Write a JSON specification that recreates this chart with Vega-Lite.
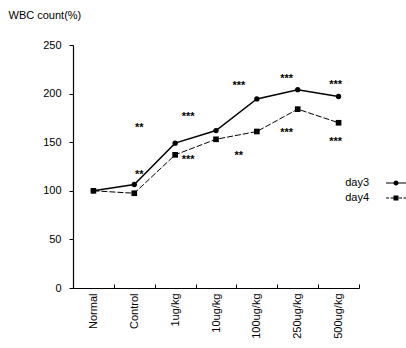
{
  "$schema": "https://vega.github.io/schema/vega-lite/v6.json",
  "width": 286,
  "height": 243,
  "autosize": {"type": "none"},
  "padding": {"left": 73, "top": 45, "right": 47, "bottom": 60},
  "config": {
    "view": {"stroke": null},
    "font": "Liberation Sans",
    "axis": {"domainColor": "black", "tickColor": "black", "labelColor": "black", "grid": false, "labelFont": "Liberation Sans", "labelFontSize": 11, "domainWidth": 1.2, "tickWidth": 1}
  },
  "datasets": {
    "wbc": [
      {"cat": "Normal", "series": "day3", "v": 100},
      {"cat": "Control", "series": "day3", "v": 106.5},
      {"cat": "1ug/kg", "series": "day3", "v": 149},
      {"cat": "10ug/kg", "series": "day3", "v": 162},
      {"cat": "100ug/kg", "series": "day3", "v": 194.5},
      {"cat": "250ug/kg", "series": "day3", "v": 204},
      {"cat": "500ug/kg", "series": "day3", "v": 197},
      {"cat": "Normal", "series": "day4", "v": 100},
      {"cat": "Control", "series": "day4", "v": 97.5},
      {"cat": "1ug/kg", "series": "day4", "v": 137},
      {"cat": "10ug/kg", "series": "day4", "v": 153},
      {"cat": "100ug/kg", "series": "day4", "v": 161},
      {"cat": "250ug/kg", "series": "day4", "v": 184},
      {"cat": "500ug/kg", "series": "day4", "v": 170}
    ],
    "stars": [
      {"cat": "Control", "v": 168, "t": "**"},
      {"cat": "Control", "v": 119, "t": "**"},
      {"cat": "1ug/kg", "v": 178.5, "t": "***"},
      {"cat": "1ug/kg", "v": 135, "t": "***"},
      {"cat": "100ug/kg", "v": 211, "t": "***"},
      {"cat": "100ug/kg", "v": 139, "t": "**"},
      {"cat": "250ug/kg", "v": 218, "t": "***"},
      {"cat": "250ug/kg", "v": 163, "t": "***"},
      {"cat": "500ug/kg", "v": 211.5, "t": "***"},
      {"cat": "500ug/kg", "v": 153.5, "t": "***"}
    ]
  },
  "encoding": {
    "x": {
      "field": "cat", "type": "nominal",
      "scale": {"type": "band", "paddingInner": 0, "paddingOuter": 0, "domain": ["Normal", "Control", "1ug/kg", "10ug/kg", "100ug/kg", "250ug/kg", "500ug/kg"]},
      "axis": {"title": null, "labelAngle": -90, "tickBand": "extent", "tickSize": -4, "labelPadding": 9, "labelAlign": "right", "labelBaseline": "middle"}
    },
    "y": {
      "field": "v", "type": "quantitative",
      "scale": {"domain": [0, 250], "nice": false},
      "axis": {"values": [0, 50, 100, 150, 200, 250], "tickSize": 4, "labelPadding": 8, "title": "WBC count(%)", "titleAngle": 0, "titleX": -65, "titleY": -27, "titleAlign": "left", "titleBaseline": "alphabetic", "titleFontWeight": "normal", "titleFontSize": 11, "titleFont": "Liberation Sans Narrow, Liberation Sans, sans-serif", "titleColor": "black"}
    }
  },
  "layer": [
    {"data": {"name": "wbc"}, "transform": [{"filter": "datum.series == 'day3'"}], "mark": {"type": "line", "color": "black", "strokeWidth": 1.4}},
    {"data": {"name": "wbc"}, "transform": [{"filter": "datum.series == 'day4'"}], "mark": {"type": "line", "color": "black", "strokeWidth": 1, "strokeDash": [6, 2]}},
    {"data": {"name": "wbc"}, "transform": [{"filter": "datum.series == 'day3'"}], "mark": {"type": "point", "shape": "circle", "filled": true, "color": "black", "size": 28, "opacity": 1}},
    {"data": {"name": "wbc"}, "transform": [{"filter": "datum.series == 'day4'"}], "mark": {"type": "point", "shape": "square", "filled": true, "color": "black", "size": 32, "opacity": 1}},
    {
      "data": {"name": "wbc"},
      "mark": {"type": "point", "filled": true, "color": "black", "opacity": 0, "strokeWidth": 0},
      "encoding": {
        "shape": {
          "field": "series", "type": "nominal",
          "scale": {"domain": ["day3", "day4"], "range": [
            "M-1,-0.06H1V0.06H-1Z M-0.25,0A0.25,0.25 0 1,1 0.25,0A0.25,0.25 0 1,1 -0.25,0Z",
            "M-1,-0.05H-0.7V0.05H-1Z M-0.55,-0.05H-0.25V0.05H-0.55Z M0.3,-0.05H0.6V0.05H0.3Z M0.75,-0.05H1V0.05H0.75Z M-0.25,-0.25H0.25V0.25H-0.25Z"
          ]},
          "legend": {
            "title": null, "orient": "none", "legendX": 254, "legendY": 128,
            "symbolSize": 400, "symbolOffset": 59, "labelOffset": -37, "labelAlign": "right", "rowPadding": 0,
            "symbolStrokeWidth": 0, "symbolFillColor": "black", "symbolOpacity": 1,
            "labelFont": "Liberation Sans Narrow, Liberation Sans, sans-serif", "labelFontSize": 11, "labelColor": "black", "padding": 0,
            "encode": {"symbols": {"update": {"opacity": {"value": 1}, "fill": {"value": "black"}, "strokeWidth": {"value": 0}}}}
          }
        }
      }
    },
    {"data": {"name": "stars"}, "transform": [{"filter": "datum.cat == 'Control'"}], "mark": {"type": "text", "dx": 5, "dy": 3, "fontSize": 11, "fontWeight": "bold", "fill": "black"}, "encoding": {"text": {"field": "t"}}},
    {"data": {"name": "stars"}, "transform": [{"filter": "datum.cat == '1ug/kg'"}], "mark": {"type": "text", "dx": 13, "dy": 3, "fontSize": 11, "fontWeight": "bold", "fill": "black"}, "encoding": {"text": {"field": "t"}}},
    {"data": {"name": "stars"}, "transform": [{"filter": "datum.cat == '100ug/kg'"}], "mark": {"type": "text", "dx": -18, "dy": 3, "fontSize": 11, "fontWeight": "bold", "fill": "black"}, "encoding": {"text": {"field": "t"}}},
    {"data": {"name": "stars"}, "transform": [{"filter": "datum.cat == '250ug/kg'"}], "mark": {"type": "text", "dx": -11, "dy": 3, "fontSize": 11, "fontWeight": "bold", "fill": "black"}, "encoding": {"text": {"field": "t"}}},
    {"data": {"name": "stars"}, "transform": [{"filter": "datum.cat == '500ug/kg'"}], "mark": {"type": "text", "dx": -3, "dy": 3, "fontSize": 11, "fontWeight": "bold", "fill": "black"}, "encoding": {"text": {"field": "t"}}}
  ]
}
